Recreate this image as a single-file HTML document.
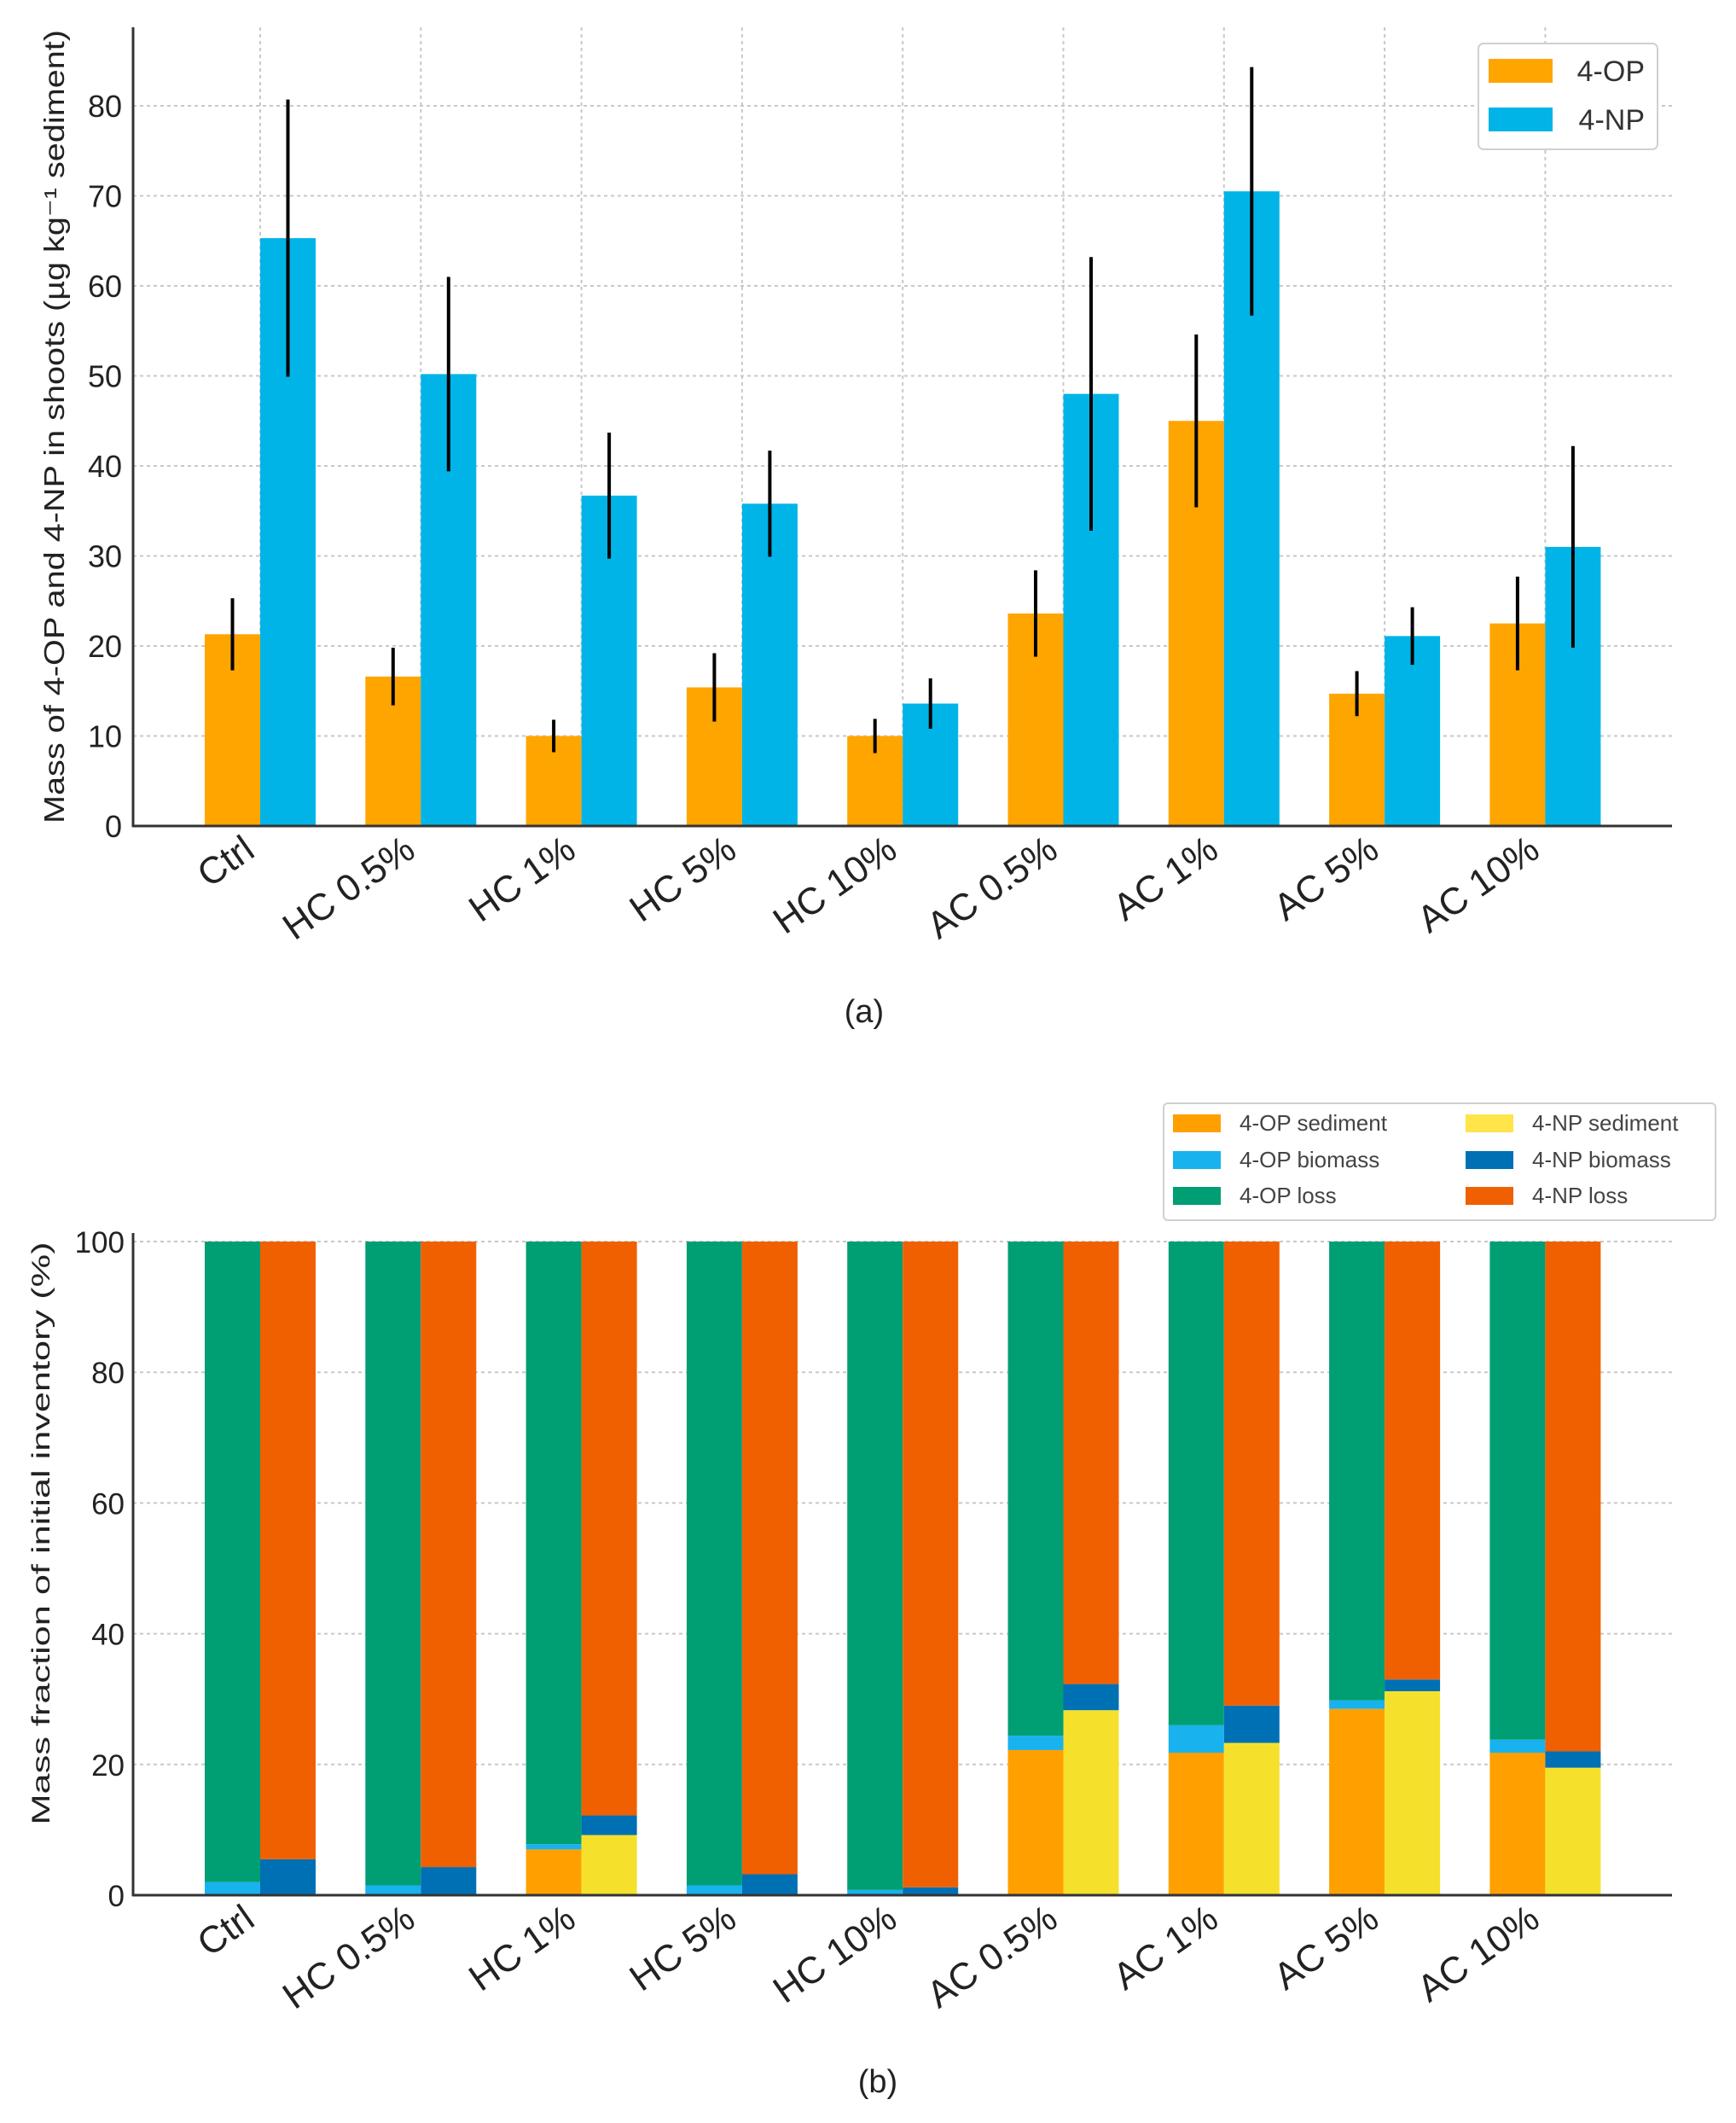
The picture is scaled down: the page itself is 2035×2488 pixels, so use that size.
<!DOCTYPE html>
<html><head><meta charset="utf-8">
<style>
html,body{margin:0;padding:0;background:#fff;}
svg{display:block;font-family:"Liberation Sans","DejaVu Sans",sans-serif;}
</style></head>
<body>
<svg id="fig" width="2035" height="2488" viewBox="0 0 2035 2488" xmlns="http://www.w3.org/2000/svg">
<g id="chartA"></g>
<g id="chartB"></g>
</svg>
<script>
const categories = ["Ctrl","HC 0.5%","HC 1%","HC 5%","HC 10%","AC 0.5%","AC 1%","AC 5%","AC 10%"];
const opShoot = [21.3,16.6,10,15.4,10,23.6,45,14.7,22.5];
const opShootErr = [4,3.2,1.8,3.8,1.9,4.8,9.6,2.5,5.2];
const npShoot = [65.3,50.2,36.7,35.8,13.6,48,70.5,21.1,31];
const npShootErr = [15.4,10.8,7,5.9,2.8,15.2,13.8,3.2,11.2];
const ticksA = [0,10,20,30,40,50,60,70,80];
const opSediment = [0,0,7,0,0,22.2,21.8,28.5,21.8];
const opBiomass = [2,1.5,0.8,1.5,0.8,2.2,4.2,1.3,2];
const npSediment = [0,0,9.2,0,0,28.3,23.3,31.2,19.5];
const npBiomass = [5.5,4.3,3,3.2,1.2,4,5.7,1.8,2.5];
const ticksB = [0,20,40,60,80,100];

const NS="http://www.w3.org/2000/svg";
function mk(parent,tag,attrs,text){const e=document.createElementNS(NS,tag);for(const k in attrs)e.setAttribute(k,attrs[k]);if(text!==undefined)e.textContent=text;parent.appendChild(e);return e;}

const X0=156, X1=1960, groupStart=305, groupStep=188.3, barW=65;
function xc(i){return groupStart+i*groupStep;}

// ---------- Chart A ----------
const gA=document.getElementById('chartA');
const A_y0=968, A_k=10.55;
function yA(v){return A_y0-v*A_k;}
ticksA.forEach(t=>{
  if(t>0){const l=mk(gA,'line',{x1:X0,x2:X1,y1:yA(t),y2:yA(t),stroke:'#c8c8c8','stroke-width':2,'stroke-dasharray':'4,4'});
  }
  const tx=mk(gA,'text',{x:143,y:yA(t)+13,'text-anchor':'end','font-size':36,fill:'#222'},String(t));
  
});
categories.forEach((c,i)=>{
  const l=mk(gA,'line',{x1:xc(i),x2:xc(i),y1:32,y2:A_y0,stroke:'#c8c8c8','stroke-width':2,'stroke-dasharray':'4,4'});
  
});
categories.forEach((c,i)=>{
  const xo=xc(i)-barW, xn=xc(i);
  const b1=mk(gA,'rect',{x:xo,y:yA(opShoot[i]),width:barW,height:opShoot[i]*A_k,fill:'#FFA500'});
  
  const b2=mk(gA,'rect',{x:xn,y:yA(npShoot[i]),width:barW,height:npShoot[i]*A_k,fill:'#00B4E8'});
  
  const e1=mk(gA,'line',{x1:xo+barW/2,x2:xo+barW/2,y1:yA(opShoot[i]+opShootErr[i]),y2:yA(opShoot[i]-opShootErr[i]),stroke:'#000','stroke-width':4});
  
  const e2=mk(gA,'line',{x1:xn+barW/2,x2:xn+barW/2,y1:yA(npShoot[i]+npShootErr[i]),y2:yA(npShoot[i]-npShootErr[i]),stroke:'#000','stroke-width':4});
  
  const tl=mk(gA,'text',{x:0,y:0,'text-anchor':'end','font-size':44,fill:'#222',transform:`translate(${xc(i)-4},${A_y0+34}) rotate(-35)`},c);
  
});
mk(gA,'line',{x1:X0,x2:X0,y1:32,y2:A_y0+1,stroke:'#333','stroke-width':3});
mk(gA,'line',{x1:X0-1,x2:X1,y1:A_y0,y2:A_y0,stroke:'#333','stroke-width':3});
const ytA=mk(gA,'text',{x:0,y:0,'text-anchor':'middle','font-size':33,fill:'#222',transform:'translate(75,500) rotate(-90)',textLength:930,lengthAdjust:'spacingAndGlyphs'},'Mass of 4-OP and 4-NP in shoots (µg kg⁻¹ sediment)');

const lgA=mk(gA,'g',{});
mk(lgA,'rect',{x:1733,y:51,width:210,height:124,rx:6,fill:'#fff',stroke:'#d0d0d0','stroke-width':2});
[['4-OP','#FFA500',83],['4-NP','#00B4E8',140]].forEach(([n,col,y])=>{
  const p=mk(lgA,'rect',{x:1745,y:y-14,width:75,height:28,fill:col});
  
  mk(lgA,'text',{x:1928,y:y+12,'text-anchor':'end','font-size':34,fill:'#333'},n);
});
const capA=mk(gA,'text',{x:1013,y:1198,'text-anchor':'middle','font-size':38,fill:'#222'},'(a)');


// ---------- Chart B ----------
const gB=document.getElementById('chartB');
const B_y0=2221, B_k=7.66;
function yB(v){return B_y0-v*B_k;}
ticksB.forEach(t=>{
  if(t>0){const l=mk(gB,'line',{x1:X0,x2:X1,y1:yB(t),y2:yB(t),stroke:'#c8c8c8','stroke-width':2,'stroke-dasharray':'4,4'});
  }
  const tx=mk(gB,'text',{x:146,y:yB(t)+13,'text-anchor':'end','font-size':35,fill:'#222'},String(t));
  
});
function seg(x,v0,v1,col,name){
  const r=mk(gB,'rect',{x:x,y:yB(v1),width:barW,height:(v1-v0)*B_k,fill:col});
  
}
categories.forEach((c,i)=>{
  const xo=xc(i)-barW, xn=xc(i);
  seg(xo,0,opSediment[i],'#FFA000','bar-4op-sediment');
  seg(xo,opSediment[i],opSediment[i]+opBiomass[i],'#18B2EE','bar-4op-biomass');
  seg(xo,opSediment[i]+opBiomass[i],100,'#009E73','bar-4op-loss');
  seg(xn,0,npSediment[i],'#F5E12C','bar-4np-sediment');
  seg(xn,npSediment[i],npSediment[i]+npBiomass[i],'#0070B5','bar-4np-biomass');
  seg(xn,npSediment[i]+npBiomass[i],100,'#F06000','bar-4np-loss');
  const tl=mk(gB,'text',{x:0,y:0,'text-anchor':'end','font-size':44,fill:'#222',transform:`translate(${xc(i)-4},${B_y0+34}) rotate(-35)`},c);
  
});
mk(gB,'line',{x1:X0,x2:X0,y1:1445,y2:B_y0+1,stroke:'#333','stroke-width':3});
mk(gB,'line',{x1:X0-1,x2:X1,y1:B_y0,y2:B_y0,stroke:'#333','stroke-width':3});
const ytB=mk(gB,'text',{x:0,y:0,'text-anchor':'middle','font-size':30,fill:'#222',transform:'translate(58,1797) rotate(-90)',textLength:683,lengthAdjust:'spacingAndGlyphs'},'Mass fraction of initial inventory (%)');

const lgB=mk(gB,'g',{});
mk(lgB,'rect',{x:1364,y:1293,width:647,height:137,rx:5,fill:'#fff',stroke:'#d0d0d0','stroke-width':2});
[['4-OP sediment','#FFA000',1375,1316],['4-OP biomass','#18B2EE',1375,1359],['4-OP loss','#009E73',1375,1401],
 ['4-NP sediment','#FFE44A',1718,1316],['4-NP biomass','#0070B5',1718,1359],['4-NP loss','#F06000',1718,1401]].forEach(([n,col,x,y])=>{
  const p=mk(lgB,'rect',{x:x,y:y-10,width:56,height:21,fill:col});
  
  mk(lgB,'text',{x:x+78,y:y+9,'font-size':26,fill:'#444'},n);
});
const capB=mk(gB,'text',{x:1029,y:2452,'text-anchor':'middle','font-size':38,fill:'#222'},'(b)');

</script>
</body></html>
